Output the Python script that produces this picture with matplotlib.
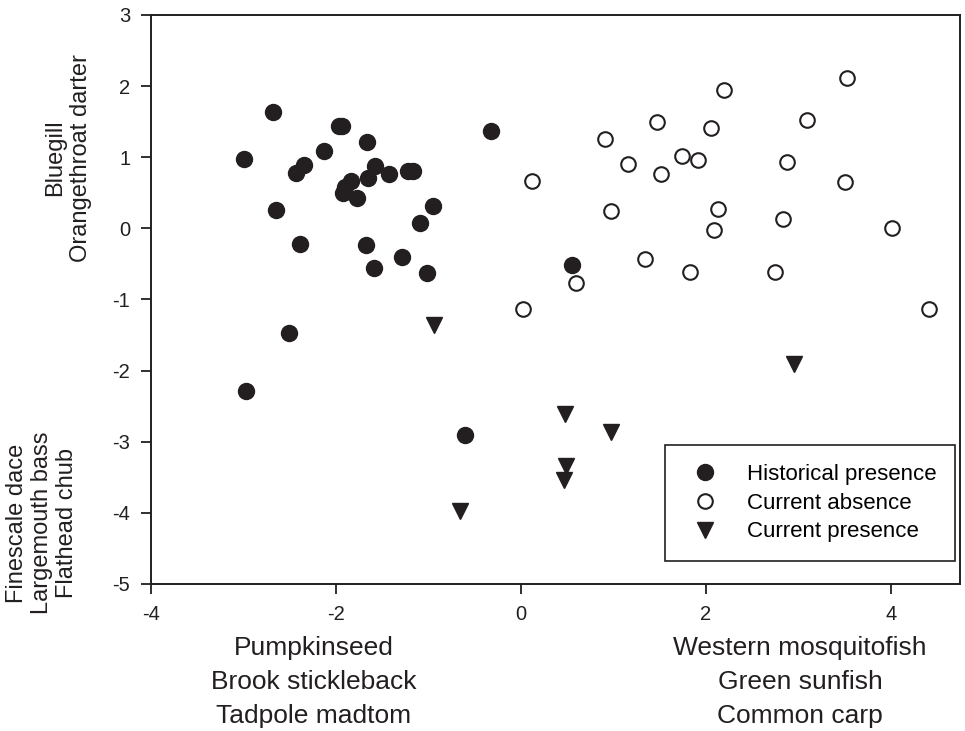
import matplotlib.pyplot as plt

plt.rcParams['font.family'] = ['Liberation Sans', 'DejaVu Sans']
plt.rcParams['axes.unicode_minus'] = False

# Historical presence (filled circles)
hist_x = [-2.68, -1.97, -1.93, -1.66, -2.13, -2.99, -2.34, -2.43, -1.58, -1.43,
          -1.22, -1.17, -1.65, -1.84, -1.90, -1.92, -1.77, -2.65, -0.95, -1.09,
          -2.39, -1.68, -1.29, -1.59, -1.02, -2.51, -2.97, -0.32, 0.55, -0.60]
hist_y = [1.63, 1.44, 1.44, 1.21, 1.09, 0.98, 0.89, 0.78, 0.88, 0.76,
          0.81, 0.80, 0.71, 0.67, 0.58, 0.50, 0.43, 0.26, 0.32, 0.08,
          -0.22, -0.24, -0.40, -0.56, -0.63, -1.47, -2.29, 1.37, -0.51, -2.91]

# Current absence (open circles)
abs_x = [3.53, 2.20, 3.09, 1.47, 2.06, 0.91, 1.16, 1.74, 1.92, 1.52,
         2.88, 0.12, 3.51, 0.97, 2.13, 2.84, 2.09, 4.02, 1.34, 1.83,
         2.75, 0.60, 0.02, 4.42]
abs_y = [2.12, 1.94, 1.52, 1.50, 1.41, 1.26, 0.91, 1.02, 0.96, 0.77,
         0.93, 0.66, 0.65, 0.25, 0.27, 0.13, -0.02, 0.00, -0.43, -0.62,
         -0.61, -0.77, -1.13, -1.13]

# Current presence (triangles)
pres_x = [-0.94, 0.48, 0.98, 0.49, 0.47, -0.66, 2.96]
pres_y = [-1.36, -2.61, -2.86, -3.34, -3.54, -3.98, -1.90]

ink = '#231f20'

fig = plt.figure(figsize=(9.65, 7.31), dpi=100)
ax = fig.add_axes([0.1565, 0.2011, 0.8383, 0.7784])

ax.plot(hist_x, hist_y, 'o', color=ink, markersize=11.5, linestyle='none',
        label='Historical presence')
ax.plot(abs_x, abs_y, 'o', markerfacecolor='white', markeredgecolor=ink,
        markeredgewidth=1.5, markersize=10.5, linestyle='none',
        label='Current absence')
ax.plot(pres_x, pres_y, 'v', color=ink, markersize=11, linestyle='none',
        label='Current presence')

ax.set_xlim(-4, 4.75)
ax.set_ylim(-5, 3)
ax.set_xticks([-4, -2, 0, 2, 4])
ax.set_yticks([-5, -4, -3, -2, -1, 0, 1, 2, 3])

for s in ax.spines.values():
    s.set_linewidth(1.4)
    s.set_color(ink)
ax.tick_params(direction='out', length=7, width=1.3, color=ink,
               labelsize=14.5, labelcolor=ink, pad=8)

leg = ax.legend(loc='lower right', bbox_to_anchor=(0.994, 0.040),
                borderaxespad=0, fancybox=False, edgecolor=ink,
                fontsize=16, handletextpad=0.9, borderpad=0.85,
                labelspacing=0.35, handlelength=1.93, framealpha=1)
leg.get_frame().set_linewidth(1.2)

# axis end labels (species groups)
fs = 19
fig.text(314 / 965, 1 - 682 / 731, 'Pumpkinseed\nBrook stickleback\nTadpole madtom',
         ha='center', va='center', fontsize=fs, color=ink, linespacing=1.5)
fig.text(800 / 965, 1 - 682 / 731, 'Western mosquitofish\nGreen sunfish\nCommon carp',
         ha='center', va='center', fontsize=fs, color=ink, linespacing=1.5)
fig.text(68 / 965, 1 - 158 / 731, 'Bluegill\nOrangethroat darter',
         ha='center', va='center', rotation=90, fontsize=17, color=ink,
         linespacing=1.2)
fig.text(42 / 965, 1 - 523 / 731, 'Finescale dace\nLargemouth bass\nFlathead chub',
         ha='center', va='center', rotation=90, fontsize=17, color=ink,
         linespacing=1.15)

fig.savefig('out.png', dpi=100)
